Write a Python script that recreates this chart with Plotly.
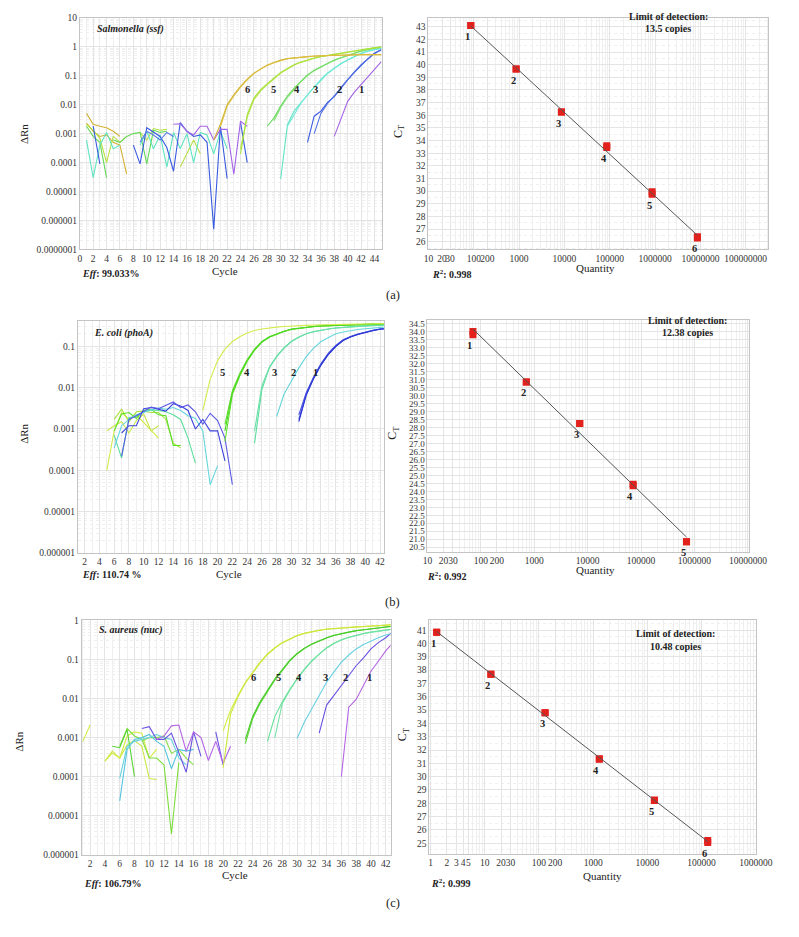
import numpy as np
import plotly.graph_objects as go

W, H = 799, 937
def px(x): return x / W
def py(y): return 1 - y / H

# ================= DATA =================
# Panel (a) Salmonella (ssf) amplification: (first cycle, ΔRn per cycle)
a_s6_r1 = (20, [0.0006, 0.0021, 0.010, 0.022, 0.043, 0.076, 0.123, 0.174, 0.234, 0.288, 0.347, 0.389, 0.417,
                0.437, 0.457, 0.479, 0.490, 0.501, 0.513, 0.525, 0.525, 0.537, 0.537, 0.537, 0.537, 0.537])
a_s6_r2 = (21, [0.0017, 0.009, 0.020, 0.040, 0.072, 0.118, 0.170, 0.228, 0.283, 0.340, 0.385, 0.415, 0.437,
                0.457, 0.475, 0.490, 0.500, 0.510, 0.520, 0.525, 0.530, 0.530, 0.530, 0.530, 0.530])
a_s5_r1 = (24, [0.0003, 0.0038, 0.015, 0.030, 0.049, 0.080, 0.123, 0.170, 0.234, 0.290, 0.347, 0.400, 0.457,
                0.500, 0.550, 0.600, 0.676, 0.720, 0.810, 0.870, 0.950, 1.0])
a_s5_r2 = (24, [0.0002, 0.0045, 0.017, 0.033, 0.053, 0.085, 0.130, 0.178, 0.240, 0.300, 0.355, 0.410, 0.465,
                0.510, 0.560, 0.610, 0.680, 0.730, 0.800, 0.860, 0.920, 0.960])
a_s4_r1 = (28, [0.0018, 0.0035, 0.009, 0.020, 0.037, 0.065, 0.107, 0.155, 0.204, 0.270, 0.347, 0.420, 0.510,
                0.600, 0.720, 0.820, 0.930, 0.980])
a_s4_r2 = (29, [0.0028, 0.008, 0.018, 0.035, 0.062, 0.102, 0.150, 0.200, 0.265, 0.340, 0.415, 0.500, 0.590,
                0.700, 0.800, 0.900, 0.950])
a_s3_r1 = (30, [0.000027, 0.002, 0.006, 0.012, 0.022, 0.040, 0.072, 0.120, 0.180, 0.260, 0.347, 0.450, 0.590,
                0.700, 0.810, 0.880])
a_s3_r2 = (31, [0.0018, 0.0045, 0.011, 0.022, 0.042, 0.075, 0.125, 0.185, 0.265, 0.355, 0.460, 0.600, 0.710,
                0.820, 0.900])
a_s2_r1 = (34, [0.0005, 0.004, 0.006, 0.012, 0.019, 0.038, 0.072, 0.130, 0.230, 0.380, 0.590, 0.780])
a_s2_r2 = (35, [0.001, 0.005, 0.011, 0.020, 0.040, 0.075, 0.135, 0.240, 0.390, 0.600, 0.800])
a_s1_r1 = (38, [0.0008, 0.003, 0.013, 0.027, 0.049, 0.090, 0.160, 0.300])
# baseline noise (a)
a_gold_n1 = (1, [0.005, 0.0021, 0.0018, 0.0016, 0.0012, 0.0008])
a_gold_n2 = (1, [0.0023, 0.0012, 0.0008, 0.0009, 0.0005, 0.0004, 0.00004])
a_lime_n1 = (1, [0.0021, 0.0013, 0.0007, 0.0001, 0.0008, 0.0005, 0.0008])
a_lime_n2 = (9, [0.0011, 0.0006, 0.0015, 0.0013, 0.0014])
a_lime_n3 = (15, [0.00007, 0.0002, 0.0006, 0.0002])
a_green_n1 = (1, [0.0018, 0.0008, 0.0005, 0.00003])
a_green_n2 = (5, [0.0006, 0.0005, 0.0008, 0.001, 0.0011, 0.00009, 0.0013, 0.0011, 0.0012])
a_aqua_n1 = (1, [0.0006, 0.00003, 0.0004, 0.0011, 0.0003, 0.0004])
a_aqua_n2 = (9, [0.0004, 0.0012, 0.0003, 0.0009, 0.00007, 0.0011, 0.0003, 0.001, 0.0001, 0.0011, 0.0009,
                 0.0002, 0.0012, 0.0003])
a_blue_n1 = (2, [0.0018, 0.00009])
a_blue_n2 = (8, [0.0004, 0.00009, 0.0016, 0.0011, 0.0008, 0.00033, 0.00005, 0.0024, 0.0012, 0.0008, 0.0009,
                 0.0005, 0.0000005, 0.0018, 0.000028])
a_blue_n3 = (9, [0.0005, 0.0012, 0.0009, 0.0006, 0.0011, 0.0008])
a_blue_n4 = (24, [0.0025, 0.0001])
a_purple_n1 = (14, [0.0021, 0.0022, 0.0012, 0.0009, 0.0018, 0.0018, 0.0006, 0.0014, 0.0014, 0.00004, 0.0027, 0.0018])

# Panel (a) standard curve
a_quantity = [86, 860, 8600, 86000, 860000, 8600000]
a_ct_rep1 = [43.1, 39.65, 36.25, 33.45, 29.75, 26.3]
a_ct_rep2 = [43.1, 39.65, 36.25, 33.6, 29.95, 26.4]
a_labels = ["1", "2", "3", "4", "5", "6"]

# Panel (b) E. coli (phoA) amplification
b_s5_r1 = (18, [0.0028, 0.016, 0.045, 0.085, 0.13, 0.17, 0.21, 0.24, 0.26, 0.28, 0.29, 0.30, 0.31, 0.315, 0.32,
                0.325, 0.33, 0.33, 0.335, 0.34, 0.34, 0.345, 0.345, 0.35, 0.35, 0.355])
b_s4_r1 = (21, [0.0013, 0.0083, 0.022, 0.047, 0.085, 0.13, 0.17, 0.20, 0.23, 0.26, 0.275, 0.29, 0.30, 0.31,
                0.315, 0.32, 0.325, 0.33, 0.335, 0.34, 0.345, 0.35, 0.35])
b_s4_r2 = (21, [0.0005, 0.0068, 0.019, 0.043, 0.080, 0.125, 0.165, 0.197, 0.227, 0.255, 0.272, 0.287, 0.298,
                0.308, 0.314, 0.32, 0.325, 0.33, 0.334, 0.338, 0.343, 0.347, 0.35])
b_s4_r3 = (21, [0.0009, 0.0075, 0.020, 0.045, 0.082, 0.128, 0.168, 0.2, 0.23, 0.258, 0.275, 0.29, 0.3, 0.31,
                0.316, 0.322, 0.327, 0.332, 0.336, 0.34, 0.345, 0.348, 0.352])
b_s3_r1 = (25, [0.00045, 0.009, 0.030, 0.056, 0.09, 0.13, 0.165, 0.20, 0.225, 0.245, 0.26, 0.275, 0.285, 0.295,
                0.30, 0.31, 0.315, 0.32, 0.325])
b_s3_r2 = (25, [0.0009, 0.011, 0.031, 0.058, 0.092, 0.132, 0.168, 0.2, 0.226, 0.246, 0.262, 0.276, 0.287,
                0.296, 0.302, 0.31, 0.316, 0.322, 0.327])
b_s2_r1 = (28, [0.002, 0.007, 0.0145, 0.03, 0.056, 0.09, 0.13, 0.165, 0.20, 0.22, 0.24, 0.255, 0.265, 0.275,
                0.29, 0.295])
b_s1_r1 = (31, [0.0017, 0.0069, 0.017, 0.036, 0.065, 0.10, 0.14, 0.17, 0.195, 0.22, 0.24, 0.26, 0.27])
b_s1_r2 = (31, [0.0022, 0.0075, 0.018, 0.038, 0.068, 0.104, 0.143, 0.173, 0.198, 0.222, 0.242, 0.262, 0.272])
b_s1_r3 = (31, [0.0015, 0.0065, 0.0165, 0.035, 0.063, 0.098, 0.137, 0.168, 0.193, 0.218, 0.238, 0.258, 0.268])
# baseline noise (b)
b_yel_n1 = (5, [0.0001, 0.0009, 0.0025, 0.0017, 0.0022, 0.0014, 0.0009, 0.0006])
b_yel_n2 = (5, [0.0009, 0.0012, 0.0015, 0.0008, 0.0016, 0.0023, 0.0009, 0.0012])
b_lime_n1 = (6, [0.0017, 0.003, 0.0015, 0.0026, 0.0027, 0.0025, 0.0025, 0.0017, 0.00045, 0.00035])
b_grn_n1 = (6, [0.0009, 0.0023, 0.0025, 0.0018, 0.0028, 0.003, 0.0022, 0.0021, 0.0004, 0.0004])
b_gaq_n1 = (6, [0.0007, 0.0002, 0.0019, 0.002, 0.0026, 0.0029, 0.0028, 0.0026, 0.0022, 0.0017, 0.0006, 0.00015])
b_aqua_n1 = (6, [0.00035, 0.0012, 0.0017, 0.0022, 0.0025, 0.0029, 0.0032, 0.003, 0.0033, 0.0028, 0.0021,
                 0.0018, 0.0009, 0.000045, 0.00013])
b_blue_n1 = (7, [0.0008, 0.0012, 0.0012, 0.0031, 0.0033, 0.003, 0.0027, 0.0041, 0.0036, 0.0028, 0.001, 0.0017,
                 0.0009, 0.0009, 0.00017])
b_blue_n2 = (7, [0.00022, 0.0017, 0.0021, 0.0027, 0.0034, 0.0031, 0.0037, 0.0045, 0.0033, 0.0038, 0.0026,
                 0.0013, 0.0024, 0.0016, 0.0006, 0.000045])

# Panel (b) standard curve
b_quantity = [71, 710, 7100, 71000, 710000]
b_ct_rep1 = [33.8, 30.85, 28.25, 24.35, 20.85]
b_ct_rep2 = [34.0, 30.85, 28.25, 24.45, 20.85]
b_labels = ["1", "2", "3", "4", "5"]

# Panel (c) S. aureus (nuc) amplification
c_s6_r1 = (20, [0.0015, 0.005, 0.012, 0.026, 0.047, 0.085, 0.138, 0.20, 0.27, 0.34, 0.41, 0.47, 0.52, 0.56,
                0.60, 0.62, 0.65, 0.67, 0.68, 0.70, 0.71, 0.73, 0.75, 0.78])
c_s6_r2 = (20, [0.00017, 0.004, 0.011, 0.025, 0.045, 0.082, 0.134, 0.196, 0.265, 0.335, 0.405, 0.465, 0.515,
                0.555, 0.595, 0.62, 0.645, 0.665, 0.68, 0.695, 0.71, 0.725, 0.745, 0.77])
c_s5_r1 = (23, [0.0007, 0.0031, 0.0075, 0.0148, 0.030, 0.052, 0.090, 0.138, 0.19, 0.245, 0.30, 0.355, 0.41,
                0.457, 0.50, 0.54, 0.57, 0.60, 0.64, 0.67, 0.71])
c_s5_r2 = (23, [0.0009, 0.0035, 0.0082, 0.0158, 0.032, 0.055, 0.094, 0.142, 0.195, 0.25, 0.305, 0.36, 0.415,
                0.46, 0.505, 0.545, 0.575, 0.605, 0.645, 0.675, 0.715])
c_s4_r1 = (26, [0.0008, 0.0035, 0.0081, 0.017, 0.032, 0.057, 0.093, 0.14, 0.20, 0.26, 0.32, 0.37, 0.42, 0.46,
                0.50, 0.53, 0.56, 0.60])
c_s4_r2 = (27, [0.001, 0.0075, 0.016, 0.031, 0.055, 0.09, 0.137, 0.195, 0.255, 0.315, 0.365, 0.415, 0.455,
                0.495, 0.525, 0.555, 0.595])
c_s3_r1 = (30, [0.00095, 0.0025, 0.0055, 0.012, 0.026, 0.048, 0.085, 0.13, 0.186, 0.24, 0.30, 0.36, 0.42, 0.47])
c_s2_r1 = (33, [0.0013, 0.0068, 0.012, 0.022, 0.040, 0.069, 0.11, 0.186, 0.27, 0.36, 0.52])
c_s1_r1 = (36, [0.0001, 0.006, 0.0095, 0.022, 0.050, 0.09, 0.165, 0.27])
# baseline noise (c)
c_yel_n1 = (1, [0.0008, 0.0021])
c_yel_n2 = (4, [0.00025, 0.00045, 0.0003, 0.00065, 0.00085, 0.0006, 0.00009, 0.000085])
c_yel_n3 = (4, [0.00025, 0.0004, 0.0003, 0.0011, 0.0014, 0.0013, 0.0003, 0.0005])
c_grn_n1 = (6, [0.0006, 0.0017, 0.0011, 0.0009, 0.0003, 0.0003, 0.0002, 0.0000034, 0.00023])
c_grn_n2 = (5, [0.0006, 0.00055, 0.0016, 0.0001])
c_grn_n3 = (9, [0.0008, 0.001, 0.001, 0.0011, 0.0004, 0.0005, 0.0003, 0.0002])
c_aqua_n1 = (6, [0.000024, 0.0005, 0.0009, 0.001, 0.0012, 0.0008, 0.0006, 0.00016, 0.0005, 0.00045, 0.0005])
c_aqua_n2 = (6, [0.00009, 0.0006, 0.0008, 0.0009, 0.001, 0.0012, 0.001, 0.0009, 0.0003, 0.0002])
c_blue_n1 = (9, [0.0017, 0.0019, 0.0009, 0.0009, 0.0013, 0.0004, 0.00013, 0.0014, 0.00033])
c_blue_n2 = (19, [0.0014, 0.0002])
c_purp_n1 = (11, [0.0009, 0.0011, 0.002, 0.0021, 0.00045, 0.0014, 0.001, 0.00026, 0.0008, 0.00022, 0.0006])

# Panel (c) standard curve
c_quantity = [1.3, 13, 130, 1300, 13500, 130000]
c_ct_rep1 = [40.85, 37.7, 34.8, 31.3, 28.2, 25.05]
c_ct_rep2 = [40.85, 37.7, 34.8, 31.35, 28.25, 25.2]
c_labels = ["1", "2", "3", "4", "5", "6"]

# Tick labels
amp_a_ticks = [10, 1, 0.1, 0.01, 0.001, 0.0001, 0.00001, 0.000001, 0.0000001]
amp_a_ticktext = ["10", "1", "0.1", "0.01", "0.001", "0.0001", "0.00001", "0.000001", "0.0000001"]
amp_b_ticks = [0.1, 0.01, 0.001, 0.0001, 0.00001, 0.000001]
amp_b_ticktext = ["0.1", "0.01", "0.001", "0.0001", "0.00001", "0.000001"]
amp_c_ticks = [1, 0.1, 0.01, 0.001, 0.0001, 0.00001, 0.000001]
amp_c_ticktext = ["1", "0.1", "0.01", "0.001", "0.0001", "0.00001", "0.000001"]
q_a_ticks = [10, 20, 30, 100, 200, 1000, 10000, 100000, 1000000, 10000000, 100000000]
q_b_ticks = [10, 20, 30, 100, 200, 1000, 10000, 100000, 1000000, 10000000]
q_c_ticks = [1, 2, 3, 4, 5, 10, 20, 30, 100, 200, 1000, 10000, 100000, 1000000]

# ================= FIGURE =================
FONT = "Liberation Serif"
fig = go.Figure()

def add_curve(tr, color, xa, ya, width=1.1):
    start, vals = tr
    cyc = list(range(start, start + len(vals)))
    fig.add_trace(go.Scatter(x=cyc, y=vals, mode="lines", line=dict(color=color, width=width),
                             xaxis=xa, yaxis=ya, showlegend=False, hoverinfo="skip"))

# colours
GOLD, LIME, GREEN, AQUA, BLUE, PURPLE = "#d2b234", "#b6e046", "#66d85a", "#5fe4c2", "#3a5ae0", "#a464e6"
for tr, col in [(a_gold_n1, GOLD), (a_gold_n2, GOLD), (a_lime_n1, LIME), (a_lime_n2, LIME), (a_lime_n3, LIME),
                (a_green_n1, GREEN), (a_green_n2, GREEN), (a_aqua_n1, AQUA), (a_aqua_n2, AQUA),
                (a_blue_n1, BLUE), (a_blue_n2, BLUE), (a_blue_n3, "#5a7ae8"), (a_blue_n4, BLUE),
                (a_purple_n1, PURPLE),
                (a_s1_r1, PURPLE), (a_s2_r1, BLUE), (a_s2_r2, "#5070e4"), (a_s3_r1, AQUA), (a_s3_r2, "#70eadc"),
                (a_s4_r1, GREEN), (a_s4_r2, "#7ee070"), (a_s5_r1, LIME), (a_s5_r2, "#a8e43c"),
                (a_s6_r1, GOLD), (a_s6_r2, "#dcc040")]:
    add_curve(tr, col, "x", "y")

BY, BL, BG, BGA, BA, BB = "#d4ea4c", "#a6e23c", "#5ade2a", "#5adc9c", "#66d6dc", "#3a42dc"
for tr, col in [(b_yel_n1, BY), (b_yel_n2, "#c6e64a"), (b_lime_n1, BL), (b_grn_n1, BG), (b_gaq_n1, BGA),
                (b_aqua_n1, BA), (b_blue_n1, BB), (b_blue_n2, "#5a5ae4"),
                (b_s1_r1, BB), (b_s1_r2, "#4a52e2"), (b_s1_r3, "#2a36d4"), (b_s2_r1, BA),
                (b_s3_r1, BGA), (b_s3_r2, "#6ae0a8"), (b_s4_r1, BG), (b_s4_r2, "#66e036"), (b_s4_r3, "#4cd820"),
                (b_s5_r1, BY)]:
    add_curve(tr, col, "x3", "y3")

CY, CG, CGA, CA, CB, CP = "#d4ec44", "#56d434", "#62e094", "#66d0e0", "#6a52e0", "#b464e4"
for tr, col in [(c_yel_n1, CY), (c_yel_n2, "#c8e848"), (c_yel_n3, CY), (c_grn_n1, "#7cdc3c"),
                (c_grn_n2, CG), (c_grn_n3, "#8ade4a"), (c_aqua_n1, "#52c4dc"), (c_aqua_n2, CA),
                (c_blue_n1, CB), (c_blue_n2, CB), (c_purp_n1, CP),
                (c_s1_r1, CP), (c_s2_r1, CB), (c_s3_r1, CA), (c_s4_r1, CGA), (c_s4_r2, "#74e2a4"),
                (c_s5_r1, CG), (c_s5_r2, "#48cc28"), (c_s6_r1, CY), (c_s6_r2, "#cce63c")]:
    add_curve(tr, col, "x5", "y5")

# standard curves
RED = "#e3211c"
def add_std(q, ct1, ct2, labels, xa, ya):
    for ct in (ct1, ct2):
        fig.add_trace(go.Scatter(x=q, y=ct, mode="markers", marker=dict(symbol="square", size=7, color=RED),
                                 xaxis=xa, yaxis=ya, showlegend=False, hoverinfo="skip"))
    lq = np.log10(q)
    ym = (np.array(ct1) + np.array(ct2)) / 2
    slope, icpt = np.polyfit(lq, ym, 1)
    xs = [min(q), max(q)]
    fig.add_trace(go.Scatter(x=xs, y=[slope * np.log10(v) + icpt for v in xs], mode="lines",
                             line=dict(color="#555555", width=1), xaxis=xa, yaxis=ya,
                             showlegend=False, hoverinfo="skip"))
    for qq, c, lab in zip(q, ct1, labels):
        fig.add_annotation(x=np.log10(qq), y=c, xref=xa, yref=ya, text=f"<b>{lab}</b>",
                           showarrow=False, yshift=-11, xshift=-3,
                           font=dict(family=FONT, size=10.5, color="#222"))

add_std(a_quantity, a_ct_rep1, a_ct_rep2, a_labels, "x2", "y2")
add_std(b_quantity, b_ct_rep1, b_ct_rep2, b_labels, "x4", "y4")
add_std(c_quantity, c_ct_rep1, c_ct_rep2, c_labels, "x6", "y6")

# ---------------- axes ----------------
GRID = "#e4e4e4"
MINOR = "#efefef"
LINE = "#c4c4c4"
TICKF = dict(family=FONT, size=9.5, color="#333")

def log_minor(lo, hi):
    vals = []
    for e in range(lo, hi):
        for m in range(2, 10):
            vals.append(m * 10.0 ** e)
    return vals

def base_axis(**kw):
    d = dict(showline=True, linecolor=LINE, linewidth=1, mirror=True, showgrid=True, gridcolor=GRID,
             gridwidth=1, zeroline=False, ticks="", tickfont=TICKF, tickangle=0, fixedrange=True)
    d.update(kw)
    return d

layout = dict(
    width=W, height=H, margin=dict(l=0, r=0, t=0, b=0), plot_bgcolor="white", paper_bgcolor="white",
    font=dict(family=FONT, size=10, color="#222"), hovermode=False,
    # (a) amplification
    xaxis=base_axis(domain=[px(77), px(388)], range=[0, 45.1], tickvals=list(range(0, 45, 2)), anchor="y",
                    minor=dict(dtick=1, showgrid=True, gridcolor=MINOR)),
    yaxis=base_axis(domain=[py(247), py(13)], type="log", range=[-7, 1], tickvals=amp_a_ticks,
                    ticktext=amp_a_ticktext, anchor="x",
                    minor=dict(tickvals=log_minor(-7, 1), showgrid=True, gridcolor=MINOR, griddash="dot")),
    # (a) standard curve
    xaxis2=base_axis(domain=[px(436), px(786)], type="log", range=[1, 8.5], tickvals=q_a_ticks,
                     ticktext=[str(v) for v in q_a_ticks], anchor="y2",
                     minor=dict(tickvals=log_minor(1, 9), showgrid=True, gridcolor=MINOR)),
    yaxis2=base_axis(domain=[py(247), py(13)], range=[25.4, 43.7], tickvals=list(range(26, 44)), anchor="x2",
                     minor=dict(dtick=0.5, showgrid=True, gridcolor=MINOR, griddash="dot")),
    # (b) amplification
    xaxis3=base_axis(domain=[px(75), px(390)], range=[1.08, 42.5], tickvals=list(range(2, 43, 2)), anchor="y3",
                     minor=dict(dtick=1, showgrid=True, gridcolor=MINOR)),
    yaxis3=base_axis(domain=[py(554), py(319)], type="log", range=[-6, -0.38], tickvals=amp_b_ticks,
                     ticktext=amp_b_ticktext, anchor="x3",
                     minor=dict(tickvals=log_minor(-6, 0), showgrid=True, gridcolor=MINOR, griddash="dot")),
    # (b) standard curve
    xaxis4=base_axis(domain=[px(435), px(766)], type="log", range=[1, 7.02], tickvals=q_b_ticks,
                     ticktext=[str(v) for v in q_b_ticks], anchor="y4",
                     minor=dict(tickvals=log_minor(1, 8), showgrid=True, gridcolor=MINOR)),
    yaxis4=base_axis(domain=[py(553), py(318)], range=[20.2, 34.75],
                     tickvals=[20.5 + 0.5 * i for i in range(29)],
                     ticktext=[f"{20.5 + 0.5 * i:.1f}" for i in range(29)], anchor="x4",
                     tickfont=dict(family=FONT, size=9, color="#333")),
    # (c) amplification
    xaxis5=base_axis(domain=[px(79), px(397)], range=[0.86, 42.66], tickvals=list(range(2, 43, 2)), anchor="y5",
                     minor=dict(dtick=1, showgrid=True, gridcolor=MINOR)),
    yaxis5=base_axis(domain=[py(859), py(622)], type="log", range=[-6, 0], tickvals=amp_c_ticks,
                     ticktext=amp_c_ticktext, anchor="x5",
                     minor=dict(tickvals=log_minor(-6, 0), showgrid=True, gridcolor=MINOR, griddash="dot")),
    # (c) standard curve
    xaxis6=base_axis(domain=[px(437), px(773)], type="log", range=[-0.02, 6.0], tickvals=q_c_ticks,
                     ticktext=[str(v) for v in q_c_ticks], anchor="y6",
                     minor=dict(tickvals=log_minor(0, 6), showgrid=True, gridcolor=MINOR)),
    yaxis6=base_axis(domain=[py(858), py(622)], range=[24.2, 41.74], tickvals=list(range(25, 42)), anchor="x6",
                     minor=dict(dtick=0.5, showgrid=True, gridcolor=MINOR, griddash="dot")),
)
fig.update_layout(**layout)

# ---------------- text annotations ----------------
def txt(x, y, text, size=10, xanchor="center", angle=0, color="#222"):
    fig.add_annotation(x=px(x), y=py(y), xref="paper", yref="paper", text=text, showarrow=False,
                       xanchor=xanchor, yanchor="middle", textangle=angle,
                       font=dict(family=FONT, size=size, color=color))

# (a)
txt(93, 24, "<b><i>Salmonella (ssf)</i></b>", 10, "left")
txt(77, 271, "<b><i>Eff</i>: 99.033%</b>", 10, "left")
txt(227, 269, "Cycle", 11)
txt(19, 130, "ΔRn", 11, angle=-90)
for lab, x in zip(["6", "5", "4", "3", "2", "1"], [250, 276, 301, 320, 344, 367]):
    txt(x, 85, f"<b>{lab}</b>", 10.5)
txt(683, 12, "<b>Limit of detection:</b>", 10)
txt(683, 24, "<b>13.5 copies</b>", 10)
txt(438, 272, "<b><i>R</i><sup>2</sup>: 0.998</b>", 10, "left")
txt(608, 266, "Quantity", 11)
txt(405, 128, "C<sub>T</sub>", 12, angle=-90)
txt(399, 293, "(a)", 12.5)

# (b)
txt(90, 332, "<b><i>E. coli (phoA)</i></b>", 10, "left")
txt(77, 576, "<b><i>Eff</i>: 110.74 %</b>", 10, "left")
txt(231, 575, "Cycle", 11)
txt(20, 433, "ΔRn", 11, angle=-90)
for lab, x in zip(["5", "4", "3", "2", "1"], [224, 249, 277, 297, 320]):
    txt(x, 371, f"<b>{lab}</b>", 10.5)
txt(703, 319, "<b>Limit of detection:</b>", 10)
txt(703, 331, "<b>12.38 copies</b>", 10)
txt(432, 577, "<b><i>R</i><sup>2</sup>: 0.992</b>", 10, "left")
txt(608, 571, "Quantity", 11)
txt(400, 433, "C<sub>T</sub>", 12, angle=-90)
txt(399, 603, "(b)", 12.5)

# (c)
txt(95, 632, "<b><i>S. aureus (nuc)</i></b>", 10, "left")
txt(79, 888, "<b><i>Eff</i>: 106.79%</b>", 10, "left")
txt(237, 879, "Cycle", 11)
txt(14, 745, "ΔRn", 11, angle=-90)
for lab, x in zip(["6", "5", "4", "3", "2", "1"], [256, 282, 303, 330, 351, 375]):
    txt(x, 680, f"<b>{lab}</b>", 10.5)
txt(690, 635, "<b>Limit of detection:</b>", 10)
txt(690, 648, "<b>10.48 copies</b>", 10)
txt(437, 887, "<b><i>R</i><sup>2</sup>: 0.999</b>", 10, "left")
txt(615, 880, "Quantity", 11)
txt(410, 738, "C<sub>T</sub>", 12, angle=-90)
txt(399, 908, "(c)", 12.5)

# remove the browser's default 8px body margin so the figure sits at the page origin
fig.write_html("out.html", config={"displayModeBar": False, "staticPlot": True},
               post_script="document.body.style.margin='0';")
